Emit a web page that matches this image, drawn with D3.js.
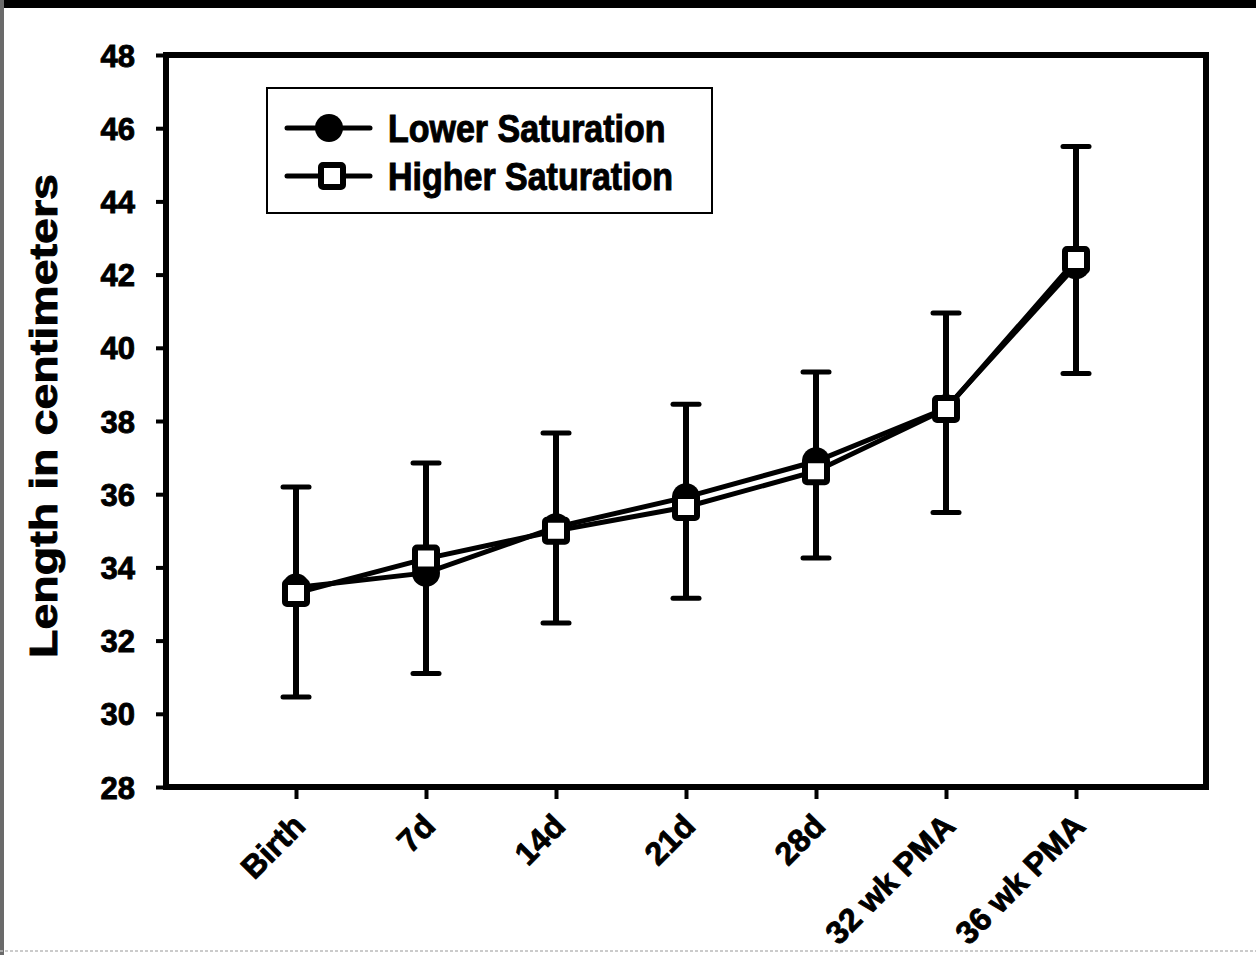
<!DOCTYPE html>
<html>
<head>
<meta charset="utf-8">
<script src="https://cdn.jsdelivr.net/npm/d3@7"></script>
<style>
  html, body { margin: 0; padding: 0; background: #fff; }
  svg { display: block; }
  text { font-family: "Liberation Sans", Arial, Helvetica, sans-serif; font-weight: bold; fill: #000; stroke: #000; stroke-width: 0.9px; }
</style>
</head>
<body>
<script>
// ---- data ----
const categories = ["Birth", "7d", "14d", "21d", "28d", "32 wk PMA", "36 wk PMA"];
const lowerSaturation = [33.45, 33.85, 35.1, 35.92, 36.9, 38.35, 42.25];
const higherSaturation = [33.3, 34.24, 35.0, 35.65, 36.63, 38.33, 42.4];
const errorUpper = [36.2, 36.85, 37.67, 38.46, 39.34, 40.95, 45.5];
const errorLower = [30.46, 31.1, 32.48, 33.16, 34.26, 35.5, 39.3];
const yTickValues = [28, 30, 32, 34, 36, 38, 40, 42, 44, 46, 48];
const seriesNames = ["Lower Saturation", "Higher Saturation"];
const yTitle = "Length in centimeters";

// ---- layout ----
const W = 1256, H = 955;
const plot = { left: 166, right: 1206, top: 55, bottom: 787 };

const svg = d3.select("body").append("svg").attr("width", W).attr("height", H);

// scan artefacts: dark top band and left strip
svg.append("rect").attr("x", 0).attr("y", 0).attr("width", W).attr("height", 8).attr("fill", "#000");
svg.append("rect").attr("x", 0).attr("y", 0).attr("width", 4).attr("height", H).attr("fill", "#6a6a6a");
svg.append("line").attr("x1", 0).attr("x2", W).attr("y1", 951).attr("y2", 951)
  .attr("stroke", "#bbb").attr("stroke-width", 1.5).attr("stroke-dasharray", "3,2");

const x = d3.scaleLinear().domain([0, 8]).range([plot.left, plot.right]);
const y = d3.scaleLinear().domain([28, 48]).range([plot.bottom, plot.top]);
const xi = i => x(i + 1);

// ---- axes ----
const yAxis = d3.axisLeft(y).tickValues(yTickValues).tickSize(10).tickSizeOuter(0).tickPadding(21).tickFormat(d3.format("d"));
const gy = svg.append("g").attr("transform", `translate(${plot.left},0)`).call(yAxis);
gy.select(".domain").remove();
gy.selectAll(".tick line").attr("stroke", "#000").attr("stroke-width", 4);
gy.selectAll(".tick text").attr("font-size", 31).attr("font-weight", "bold")
  .attr("font-family", "'Liberation Sans', Arial, sans-serif").attr("dy", "0.36em")
  .attr("stroke", "#000").attr("stroke-width", 1);

const xAxis = d3.axisBottom(x).tickValues(d3.range(1, 8)).tickSize(12).tickSizeOuter(0).tickFormat("");
const gx = svg.append("g").attr("transform", `translate(0,${plot.bottom})`).call(xAxis);
gx.select(".domain").remove();
gx.selectAll(".tick line").attr("stroke", "#000").attr("stroke-width", 4);

svg.append("g").selectAll("text").data(categories).join("text")
  .attr("transform", (d, i) => `translate(${xi(i) + 11},${plot.bottom + 41}) rotate(-45)`)
  .attr("text-anchor", "end")
  .attr("font-size", 32)
  .text(d => d);

// frame
svg.append("rect").attr("x", plot.left).attr("y", plot.top)
  .attr("width", plot.right - plot.left).attr("height", plot.bottom - plot.top)
  .attr("fill", "none").attr("stroke", "#000").attr("stroke-width", 6);

// y title
svg.append("text")
  .attr("transform", `translate(57,${(plot.top + plot.bottom) / 2 - 5}) rotate(-90)`)
  .attr("text-anchor", "middle")
  .attr("font-size", 38)
  .attr("textLength", 484).attr("lengthAdjust", "spacingAndGlyphs")
  .text(yTitle);

// ---- error bars ----
const eb = svg.append("g").attr("stroke", "#000");
categories.forEach((c, i) => {
  eb.append("line").attr("x1", xi(i)).attr("x2", xi(i)).attr("y1", y(errorLower[i])).attr("y2", y(errorUpper[i])).attr("stroke-width", 6);
  [errorLower[i], errorUpper[i]].forEach(v => {
    eb.append("line").attr("x1", xi(i) - 13).attr("x2", xi(i) + 13).attr("y1", y(v)).attr("y2", y(v))
      .attr("stroke-width", 5).attr("stroke-linecap", "round");
  });
});

// ---- series ----
const line = d3.line().x((d, i) => xi(i)).y(d => y(d));
svg.append("path").datum(lowerSaturation).attr("d", line).attr("fill", "none").attr("stroke", "#000").attr("stroke-width", 5);
svg.append("path").datum(higherSaturation).attr("d", line).attr("fill", "none").attr("stroke", "#000").attr("stroke-width", 5);

svg.append("g").selectAll("circle").data(lowerSaturation).join("circle")
  .attr("cx", (d, i) => xi(i)).attr("cy", d => y(d)).attr("r", 14).attr("fill", "#000");

svg.append("g").selectAll("rect").data(higherSaturation).join("rect")
  .attr("x", (d, i) => xi(i) - 11).attr("y", d => y(d) - 11).attr("width", 22).attr("height", 22).attr("rx", 2)
  .attr("fill", "#fff").attr("stroke", "#000").attr("stroke-width", 6);

// ---- legend ----
const lg = svg.append("g");
lg.append("rect").attr("x", 267).attr("y", 88).attr("width", 445).attr("height", 125)
  .attr("fill", "#fff").attr("stroke", "#000").attr("stroke-width", 2);
const rows = [128, 176];
rows.forEach((ry, k) => {
  lg.append("line").attr("x1", 287).attr("x2", 370).attr("y1", ry).attr("y2", ry)
    .attr("stroke", "#000").attr("stroke-width", 5).attr("stroke-linecap", "round");
  if (k === 0) {
    lg.append("circle").attr("cx", 329).attr("cy", ry).attr("r", 14).attr("fill", "#000");
  } else {
    lg.append("rect").attr("x", 332 - 11).attr("y", ry - 11).attr("width", 22).attr("height", 22).attr("rx", 2)
      .attr("fill", "#fff").attr("stroke", "#000").attr("stroke-width", 6);
  }
  lg.append("text").attr("transform", `translate(388,${ry + 14}) scale(1,1.12)`)
    .attr("font-size", 34).text(seriesNames[k]);
});
</script>
</body>
</html>
